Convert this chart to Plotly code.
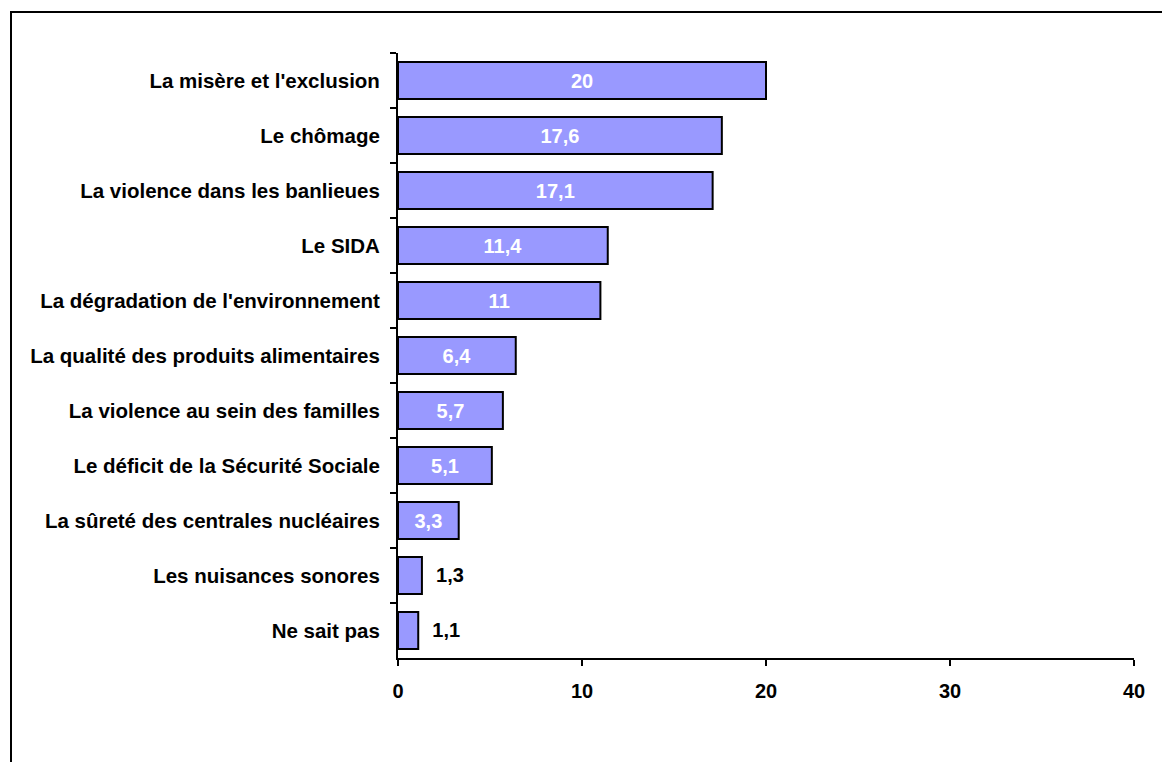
import plotly.graph_objects as go

# values (percent)
categories = [
    "La misère et l'exclusion",
    "Le chômage",
    "La violence dans les banlieues",
    "Le SIDA",
    "La dégradation de l'environnement",
    "La qualité des produits alimentaires",
    "La violence au sein des familles",
    "Le déficit de la Sécurité Sociale",
    "La sûreté des centrales nucléaires",
    "Les nuisances sonores",
    "Ne sait pas",
]
values = [20, 17.6, 17.1, 11.4, 11, 6.4, 5.7, 5.1, 3.3, 1.3, 1.1]
x_ticks = [0, 10, 20, 30, 40]

font = "Arial, Liberation Sans, sans-serif"

# short bars get their label outside, in black
positions = ["inside" if v >= 3 else "outside" for v in values]
labels = []
for v, p in zip(values, positions):
    s = f"{v:g}".replace(".", ",")
    labels.append(s if p == "inside" else "\u00a0\u00a0" + s)

fig = go.Figure(go.Bar(
    x=values,
    y=categories,
    orientation="h",
    text=labels,
    textposition=positions,
    insidetextanchor="middle",
    insidetextfont=dict(color="white", size=20, family=font, weight="bold"),
    outsidetextfont=dict(color="black", size=20, family=font, weight="bold"),
    marker=dict(color="#9999ff", line=dict(color="black", width=2)),
    width=0.67,
    cliponaxis=False,
))

fig.update_layout(
    width=1162,
    height=762,
    margin=dict(l=398, r=28, t=53, b=104),
    paper_bgcolor="white",
    plot_bgcolor="white",
    showlegend=False,
    uniformtext=dict(minsize=20, mode="show"),
    font=dict(family=font, size=20, color="black", weight="bold"),
    xaxis=dict(
        range=[0, 40],
        tickvals=x_ticks,
        showgrid=False,
        zeroline=False,
        showline=True,
        linecolor="black",
        linewidth=2,
        ticks="outside",
        ticklen=6,
        tickwidth=2,
        tickcolor="black",
        ticklabelstandoff=8,
    ),
    yaxis=dict(
        autorange="reversed",
        showgrid=False,
        showline=True,
        linecolor="black",
        linewidth=2,
        ticks="outside",
        tickson="boundaries",
        ticklen=6,
        tickwidth=2,
        tickcolor="black",
        ticklabelstandoff=12,
        tickfont=dict(size=20.5),
    ),
    shapes=[dict(
        type="rect", xref="paper", yref="paper",
        x0=(11 - 398) / 736, x1=(1180 - 398) / 736,
        y0=(658 - 780) / 605, y1=(658 - 12) / 605,
        line=dict(color="black", width=2),
        fillcolor="rgba(0,0,0,0)",
        layer="below",
    )],
)

fig.write_html("out.html", config={"displayModeBar": False},
               post_script="document.body.style.margin='0';")
